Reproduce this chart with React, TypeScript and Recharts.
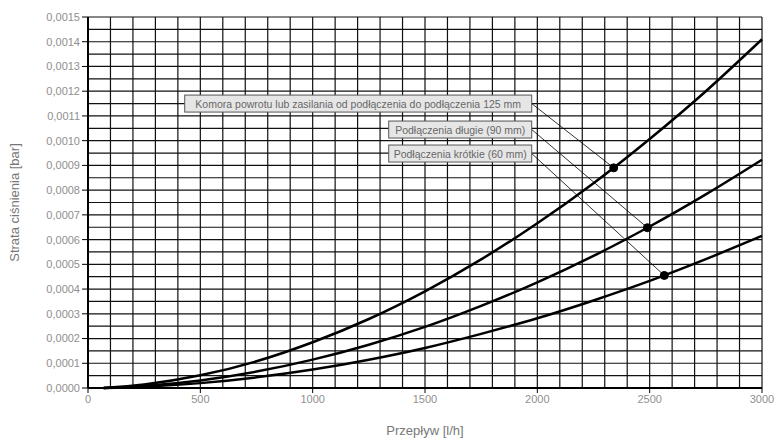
import React from 'react';
import { LineChart, Line, XAxis, YAxis, ReferenceLine, ReferenceDot, Label } from 'recharts';

// flow [l/h] and pressure loss [bar]
const flows = [70, 250, 500, 750, 1000, 1250, 1500, 1750, 2000, 2250, 2500, 2750, 3000];
const chamberLoss = [0, 0.0000142, 0.0000512, 0.000108, 0.000185, 0.000279, 0.000391, 0.00052, 0.000666, 0.000828, 0.001007, 0.0012, 0.00141];
const longLoss = [0, 0.0000082, 0.0000307, 0.0000663, 0.0001146, 0.000175, 0.000247, 0.000332, 0.000427, 0.000534, 0.000653, 0.000783, 0.000923];
const shortLoss = [0, 0.0000052, 0.0000197, 0.000043, 0.0000746, 0.0001145, 0.000162, 0.000219, 0.000282, 0.000354, 0.000433, 0.000521, 0.000615];

const xTicks = [0, 500, 1000, 1500, 2000, 2500, 3000];
const yTicks = [0, 0.0001, 0.0002, 0.0003, 0.0004, 0.0005, 0.0006, 0.0007, 0.0008, 0.0009, 0.001, 0.0011, 0.0012, 0.0013, 0.0014, 0.0015];

// fine grid: every 100 l/h and every 0.00005 bar
const gridFlows = Array.from({ length: 30 }, (_, i) => (i + 1) * 100);
const gridLoss = Array.from({ length: 30 }, (_, i) => (i + 1) * 0.00005);

const annotations = [
  { text: 'Komora powrotu lub zasilania od podłączenia do podłączenia 125 mm', boxW: 347, atFlow: 1975, atLoss: 0.00115, dotFlow: 2340, dotLoss: 0.00089 },
  { text: 'Podłączenia długie (90 mm)', boxW: 143, atFlow: 1975, atLoss: 0.001045, dotFlow: 2490, dotLoss: 0.000648 },
  { text: 'Podłączenia krótkie (60 mm)', boxW: 143, atFlow: 1975, atLoss: 0.000948, dotFlow: 2565, dotLoss: 0.000455 },
];

const data = flows.map((f, i) => ({ flow: f, chamber: chamberLoss[i], long: longLoss[i], short: shortLoss[i] }));

const font = '"Liberation Sans", Arial, sans-serif';
const fmt = (v: number) => v.toFixed(4).replace('.', ',');

const makeBox = (text: string, w: number) => (props: any) => {
  const { cx, cy } = props;
  const h = 17;
  return (
    <g>
      <rect x={cx - w} y={cy - h / 2} width={w} height={h} fill="#e6e6e6" stroke="#555" strokeWidth={1} />
      <text x={cx - w / 2} y={cy + 4} textAnchor="middle" fontSize={10.5} fill="#666" fontFamily={font}>
        {text}
      </text>
    </g>
  );
};

export default function App() {
  return (
    <div style={{ position: 'absolute', left: 0, top: 0, width: 775, height: 439, background: '#fff' }}>
      <LineChart width={775} height={439} data={data} margin={{ top: 17, right: 13, bottom: 0, left: 0 }}>
        {gridFlows.map((f) => (
          <ReferenceLine key={'gx' + f} x={f} stroke="#111" strokeWidth={1.2} />
        ))}
        {gridLoss.map((v) => (
          <ReferenceLine key={'gy' + v} y={v} stroke="#111" strokeWidth={1.2} />
        ))}
        <XAxis
          dataKey="flow"
          type="number"
          domain={[0, 3000]}
          ticks={xTicks}
          height={51}
          axisLine={{ stroke: '#000', strokeWidth: 2 }}
          tickLine={{ stroke: '#000' }}
          tickSize={5}
          tick={{ fill: '#8f8f8f', fontSize: 11, fontFamily: font }}
        >
          <Label value="Przepływ [l/h]" position="insideBottom" offset={4} fill="#777" fontSize={13} fontFamily={font} />
        </XAxis>
        <YAxis
          type="number"
          domain={[0, 0.0015]}
          ticks={yTicks}
          width={88}
          tickFormatter={fmt}
          axisLine={{ stroke: '#000', strokeWidth: 2 }}
          tickLine={{ stroke: '#000' }}
          tickSize={6}
          tick={{ fill: '#8f8f8f', fontSize: 11, fontFamily: font }}
        >
          <Label
            value="Strata ciśnienia [bar]"
            angle={-90}
            position="insideLeft"
            offset={14}
            style={{ textAnchor: 'middle' }}
            fill="#777"
            fontSize={13}
            fontFamily={font}
          />
        </YAxis>
        <Line type="monotone" dataKey="chamber" stroke="#000" strokeWidth={2.5} dot={false} activeDot={false} isAnimationActive={false} />
        <Line type="monotone" dataKey="long" stroke="#000" strokeWidth={2.5} dot={false} activeDot={false} isAnimationActive={false} />
        <Line type="monotone" dataKey="short" stroke="#000" strokeWidth={2.5} dot={false} activeDot={false} isAnimationActive={false} />
        {annotations.map((a) => (
          <ReferenceLine
            key={'l' + a.text}
            segment={[{ x: a.atFlow, y: a.atLoss }, { x: a.dotFlow, y: a.dotLoss }]}
            stroke="#000"
            strokeWidth={0.8}
          />
        ))}
        {annotations.map((a) => (
          <ReferenceDot key={'d' + a.text} x={a.dotFlow} y={a.dotLoss} r={4} fill="#000" stroke="#000" />
        ))}
        {annotations.map((a) => (
          <ReferenceDot key={'b' + a.text} x={a.atFlow} y={a.atLoss} r={0} shape={makeBox(a.text, a.boxW)} />
        ))}
      </LineChart>
    </div>
  );
}
